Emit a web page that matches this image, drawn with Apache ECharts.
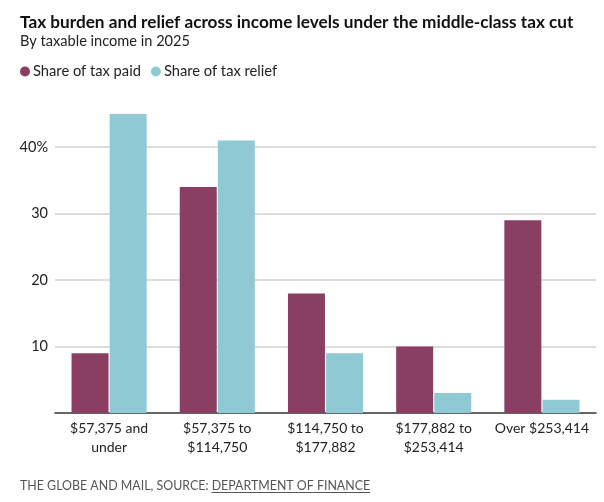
<!DOCTYPE html>
<html>
<head>
<meta charset="utf-8">
<script src="https://cdn.jsdelivr.net/npm/echarts@6/dist/echarts.min.js"></script>
<style>
html,body{margin:0;padding:0;background:#fff;}
#c{width:604px;height:502px;}
</style>
</head>
<body>
<div id="c"></div>
<script>
var categories = ["$57,375 and\nunder", "$57,375 to\n$114,750", "$114,750 to\n$177,882", "$177,882 to\n$253,414", "Over $253,414"];
var taxPaid = [9, 34, 18, 10, 29];
var taxRelief = [45, 41, 9, 3, 2];
var seriesNames = ["Share of tax paid", "Share of tax relief"];
var yTicks = [10, 20, 30, 40];

var FONT = "Lato, sans-serif";
var FOOT = "THE GLOBE AND MAIL, SOURCE: ";
var FOOT_LINK = "DEPARTMENT OF FINANCE";
var FOOT_FONT = "12.4px Lato";

var cv = document.createElement('canvas').getContext('2d');
cv.font = FOOT_FONT;
var footW = cv.measureText(FOOT).width;
var linkW = cv.measureText(FOOT_LINK).width;

var chart = echarts.init(document.getElementById('c'));
chart.setOption({
  backgroundColor: '#fff',
  animation: false,
  title: {
    text: 'Tax burden and relief across income levels under the middle-class tax cut',
    subtext: 'By taxable income in 2025',
    left: 20, top: 14, padding: 0, itemGap: 3,
    textStyle: {fontFamily: FONT, fontWeight: 'bold', fontSize: 17.2, color: '#111'},
    subtextStyle: {fontFamily: FONT, fontSize: 14.6, color: '#222'}
  },
  legend: {
    left: 20, top: 64, padding: 0, itemGap: 10,
    icon: 'circle', itemWidth: 10, itemHeight: 10,
    textStyle: {fontFamily: FONT, fontSize: 14.7, color: '#222', padding: [0,0,0,-2]},
    data: seriesNames
  },
  grid: {left: 55, right: 8, top: 114, bottom: 89, containLabel: false},
  xAxis: {
    type: 'category', data: categories,
    axisLine: {lineStyle: {color: '#333', width: 1.5}},
    axisTick: {show: false},
    axisLabel: {fontFamily: FONT, fontSize: 14, color: '#222', lineHeight: 19, margin: 6, interval: 0}
  },
  yAxis: {
    type: 'value', min: 0, max: 45, interval: 10,
    axisLine: {show: false}, axisTick: {show: false},
    splitLine: {lineStyle: {color: '#d0d0d0', width: 1.5}, showMinLine: false, showMaxLine: false},
    axisLabel: {
      fontFamily: FONT, fontSize: 14.5, color: '#222', margin: 7,
      showMinLabel: false, showMaxLabel: false,
      formatter: function (v) {
        if (yTicks.indexOf(v) < 0) return '';
        return v === yTicks[yTicks.length - 1] ? v + '%' : String(v);
      }
    }
  },
  series: [
    {name: seriesNames[0], type: 'bar', data: taxPaid, barWidth: 37, barGap: '3%',
     itemStyle: {color: '#8a3f62'}},
    {name: seriesNames[1], type: 'bar', data: taxRelief, barWidth: 37,
     itemStyle: {color: '#8fcad4'}}
  ],
  graphic: [
    {type: 'text', left: 20, top: 480,
     style: {text: FOOT + FOOT_LINK, font: FOOT_FONT, fill: '#555'}},
    {type: 'line', shape: {x1: 20 + footW, y1: 492.5, x2: 20 + footW + linkW, y2: 492.5},
     style: {stroke: '#555', lineWidth: 1}}
  ]
});
</script>
</body>
</html>
